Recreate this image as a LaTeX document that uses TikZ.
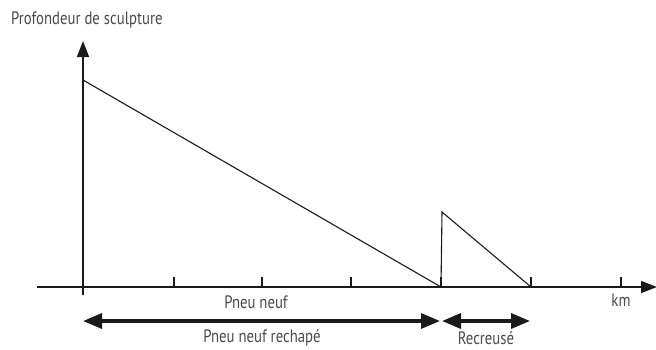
\documentclass[tikz,border=0pt]{standalone}
\usepackage{fontspec}
\setmainfont{PT Sans}[FakeStretch=0.82]
\usepackage{xcolor}
\usetikzlibrary{arrows.meta,positioning}
\definecolor{ink}{HTML}{1A1A1A}
\definecolor{muted}{HTML}{4A4A4A}
\tikzset{
  axis/.style={draw=ink, line width=1.6pt},
  curve/.style={draw=ink, line width=1.1pt, line join=miter},
  span/.style={draw=ink, line width=3.4pt, {Triangle[length=19pt,width=15pt]}-{Triangle[length=19pt,width=15pt]}},
  lab/.style={text=muted, font=\fontsize{18}{20}\selectfont, inner sep=1pt},
}
\begin{document}
\begin{tikzpicture}[x=1pt,y=-1pt]
\useasboundingbox (0,0) rectangle (656,349);
% axes
\coordinate (o) at (83,287);
\coordinate (ytop) at (83,41);
\coordinate (ybot) at (83,295);
\coordinate (xl) at (37,287);
\coordinate (xr) at (657,287);
\draw[axis, -{Triangle[length=16pt,width=12pt]}] (ybot) -- (ytop);
\draw[axis, -{Triangle[length=16pt,width=12pt]}] (xl) -- (xr);
\foreach \x in {174,262,351,441,531,621}{
  \draw[axis] (\x,287) -- (\x,277);
}
% tread depth
\coordinate (p0) at (83,80);
\coordinate (p1) at (441,287);
\coordinate (p2) at (442,212);
\coordinate (p3) at (531,287);
\draw[curve] (p0) -- (p1) -- (p2) -- (p3);
% labels
\node[lab, anchor=west] (depth) at (10,20) {Profondeur de sculpture};
\node[lab] (km) at (621,300) {km};
\node[lab] (new) at (256,302) {Pneu neuf};
\node[lab] (retread) at (262,338) {Pneu neuf rechapé};
\node[lab] (regroove) at (486,338) {Recreusé};
% spans
\coordinate (s0) at (83,321);
\coordinate (s1) at (440,321);
\coordinate (s2) at (442,321);
\coordinate (s3) at (530,321);
\draw[span] (s0) -- (s1);
\draw[span] (s2) -- (s3);
\end{tikzpicture}
\end{document}
